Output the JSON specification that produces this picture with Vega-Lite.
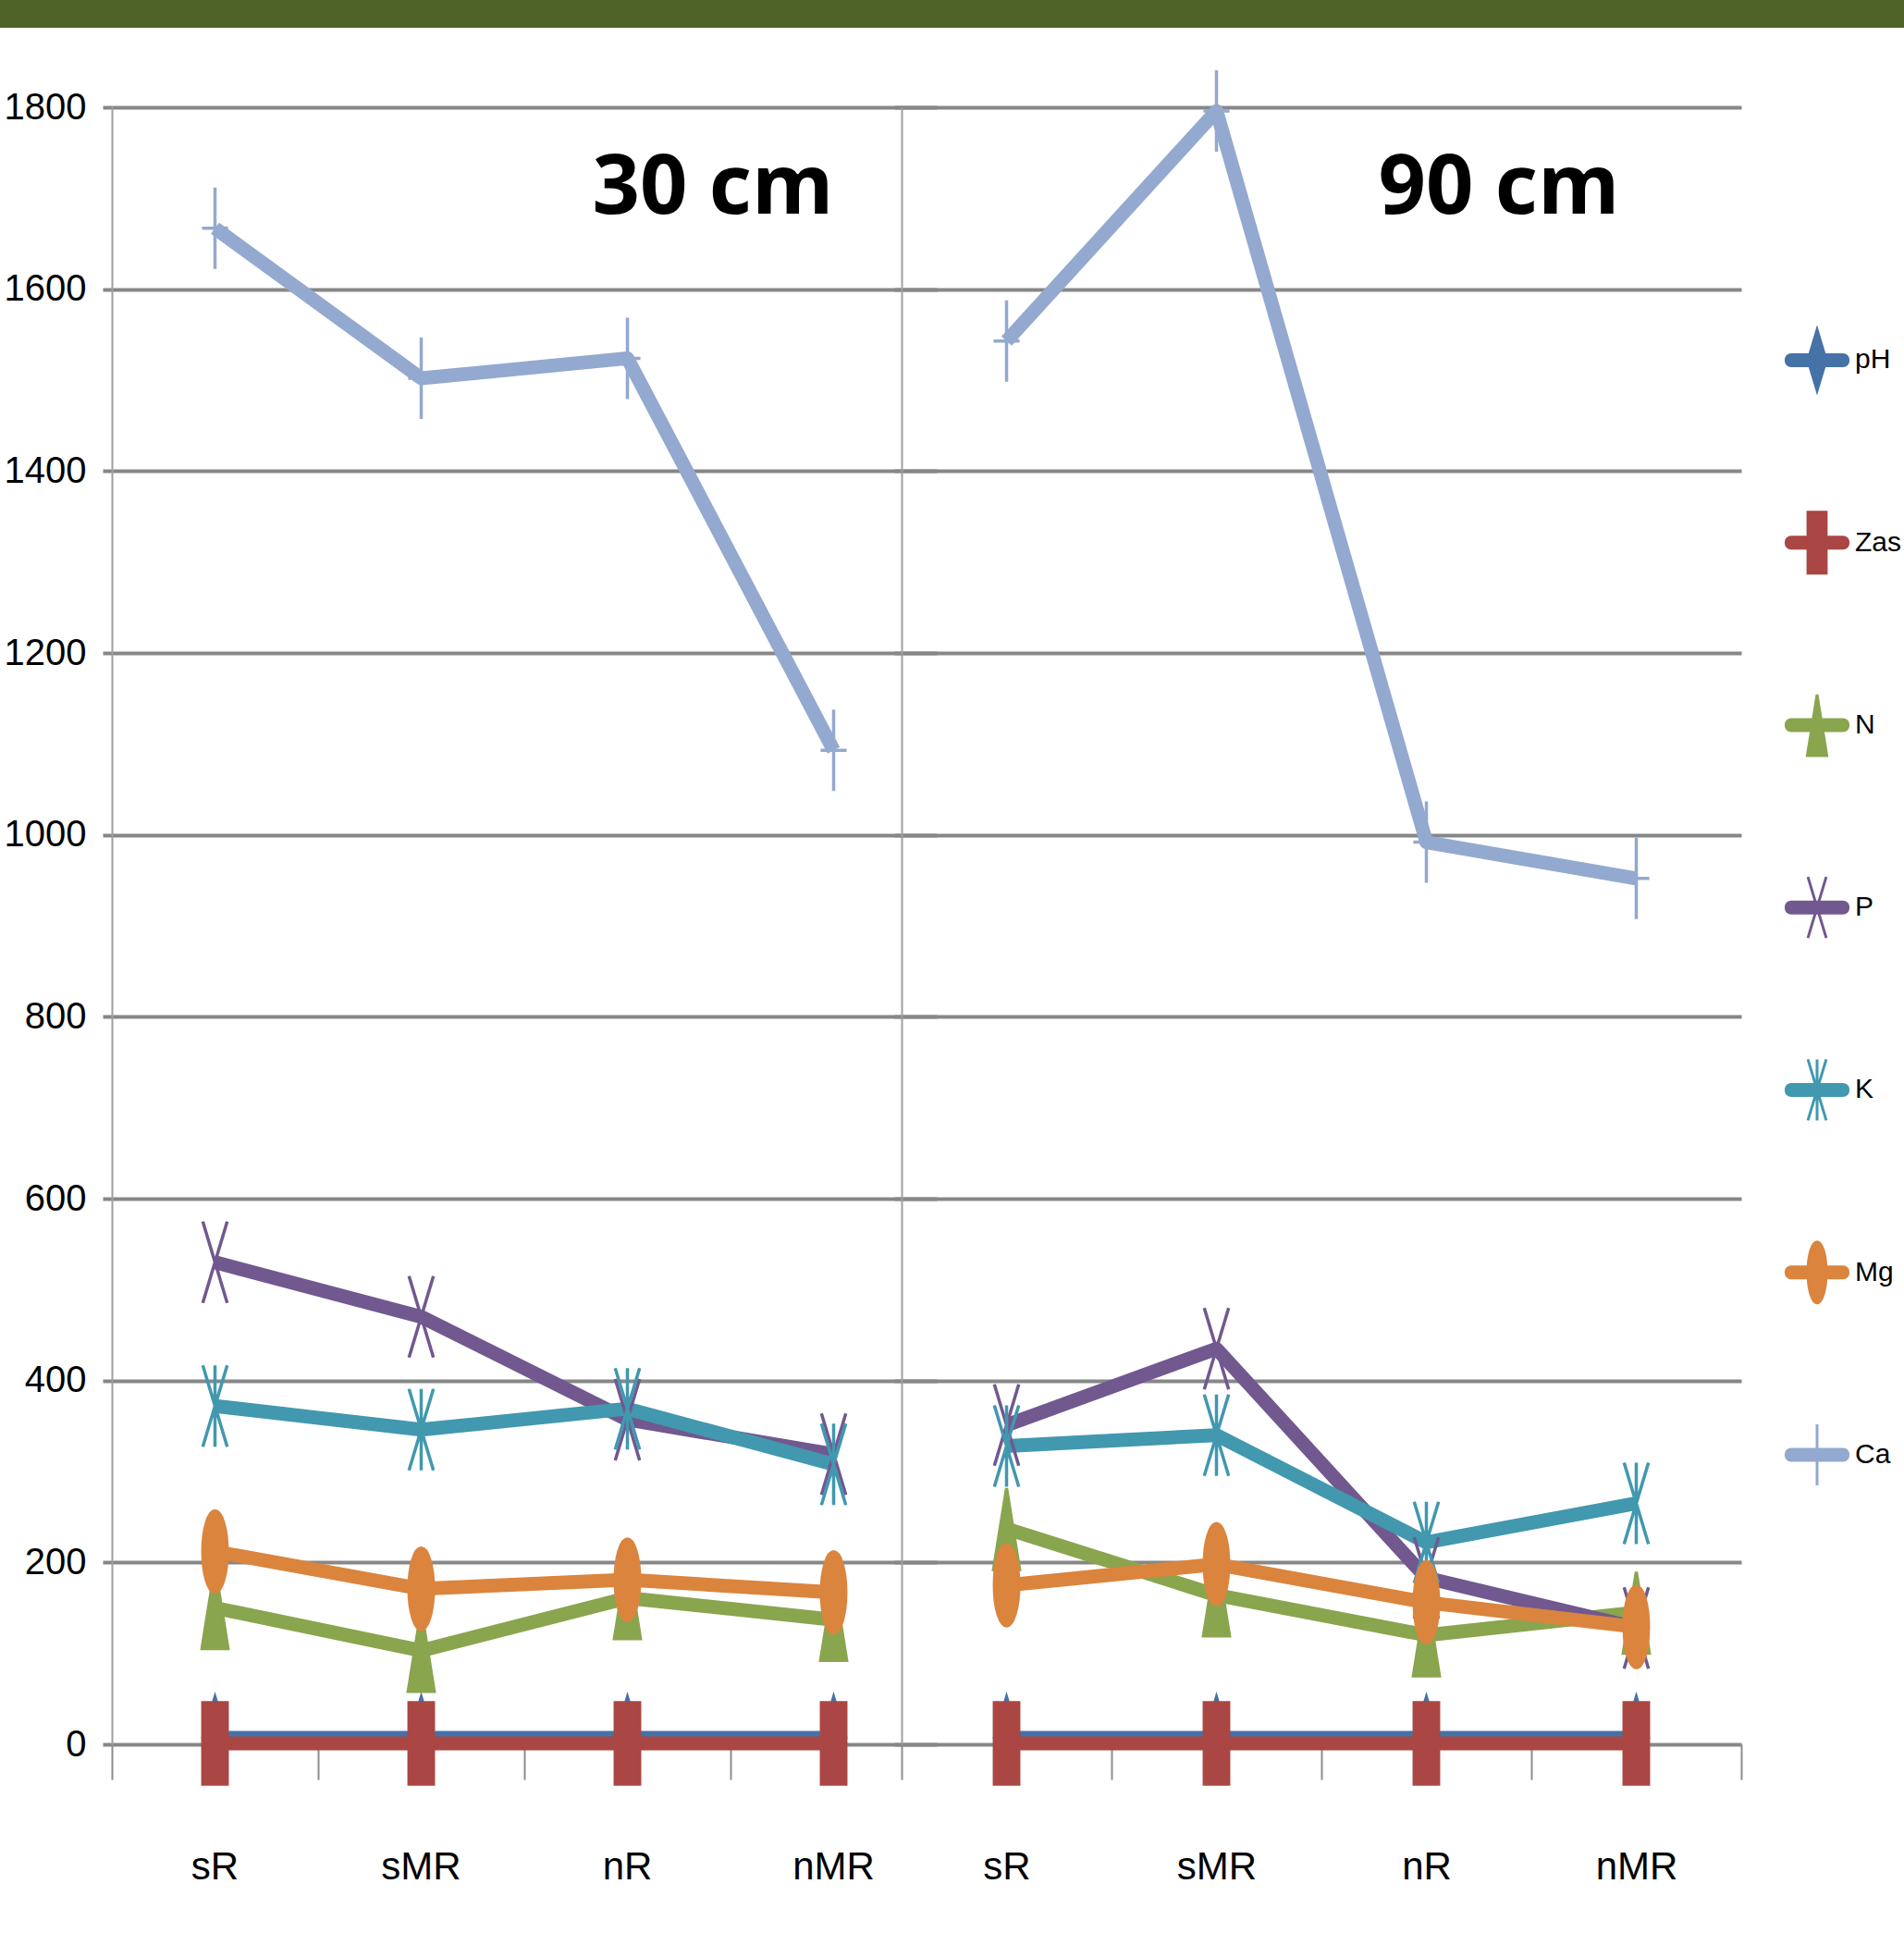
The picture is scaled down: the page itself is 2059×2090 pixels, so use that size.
{
  "$schema": "https://vega.github.io/schema/vega-lite/v6.json",
  "padding": 0,
  "background": "white",
  "config": {"view": {"stroke": null}},
  "datasets": {
    "soil": [
      {"depth": "30 cm", "site": "sR", "series": "pH", "value": 7.0},
      {"depth": "30 cm", "site": "sMR", "series": "pH", "value": 7.1},
      {"depth": "30 cm", "site": "nR", "series": "pH", "value": 7.0},
      {"depth": "30 cm", "site": "nMR", "series": "pH", "value": 7.2},
      {"depth": "90 cm", "site": "sR", "series": "pH", "value": 7.0},
      {"depth": "90 cm", "site": "sMR", "series": "pH", "value": 7.1},
      {"depth": "90 cm", "site": "nR", "series": "pH", "value": 7.0},
      {"depth": "90 cm", "site": "nMR", "series": "pH", "value": 7.2},
      {"depth": "30 cm", "site": "sR", "series": "Zas", "value": 1.0},
      {"depth": "30 cm", "site": "sMR", "series": "Zas", "value": 1.0},
      {"depth": "30 cm", "site": "nR", "series": "Zas", "value": 1.0},
      {"depth": "30 cm", "site": "nMR", "series": "Zas", "value": 1.0},
      {"depth": "90 cm", "site": "sR", "series": "Zas", "value": 1.0},
      {"depth": "90 cm", "site": "sMR", "series": "Zas", "value": 1.0},
      {"depth": "90 cm", "site": "nR", "series": "Zas", "value": 1.0},
      {"depth": "90 cm", "site": "nMR", "series": "Zas", "value": 1.0},
      {"depth": "30 cm", "site": "sR", "series": "N", "value": 150},
      {"depth": "30 cm", "site": "sMR", "series": "N", "value": 103},
      {"depth": "30 cm", "site": "nR", "series": "N", "value": 161},
      {"depth": "30 cm", "site": "nMR", "series": "N", "value": 137},
      {"depth": "90 cm", "site": "sR", "series": "N", "value": 237},
      {"depth": "90 cm", "site": "sMR", "series": "N", "value": 164},
      {"depth": "90 cm", "site": "nR", "series": "N", "value": 120},
      {"depth": "90 cm", "site": "nMR", "series": "N", "value": 145},
      {"depth": "30 cm", "site": "sR", "series": "P", "value": 530},
      {"depth": "30 cm", "site": "sMR", "series": "P", "value": 470},
      {"depth": "30 cm", "site": "nR", "series": "P", "value": 357},
      {"depth": "30 cm", "site": "nMR", "series": "P", "value": 319},
      {"depth": "90 cm", "site": "sR", "series": "P", "value": 351},
      {"depth": "90 cm", "site": "sMR", "series": "P", "value": 435},
      {"depth": "90 cm", "site": "nR", "series": "P", "value": 183},
      {"depth": "90 cm", "site": "nMR", "series": "P", "value": 128},
      {"depth": "30 cm", "site": "sR", "series": "K", "value": 372},
      {"depth": "30 cm", "site": "sMR", "series": "K", "value": 346},
      {"depth": "30 cm", "site": "nR", "series": "K", "value": 369},
      {"depth": "30 cm", "site": "nMR", "series": "K", "value": 308},
      {"depth": "90 cm", "site": "sR", "series": "K", "value": 328},
      {"depth": "90 cm", "site": "sMR", "series": "K", "value": 340},
      {"depth": "90 cm", "site": "nR", "series": "K", "value": 222},
      {"depth": "90 cm", "site": "nMR", "series": "K", "value": 265},
      {"depth": "30 cm", "site": "sR", "series": "Mg", "value": 212},
      {"depth": "30 cm", "site": "sMR", "series": "Mg", "value": 171},
      {"depth": "30 cm", "site": "nR", "series": "Mg", "value": 181},
      {"depth": "30 cm", "site": "nMR", "series": "Mg", "value": 167},
      {"depth": "90 cm", "site": "sR", "series": "Mg", "value": 175},
      {"depth": "90 cm", "site": "sMR", "series": "Mg", "value": 198},
      {"depth": "90 cm", "site": "nR", "series": "Mg", "value": 156},
      {"depth": "90 cm", "site": "nMR", "series": "Mg", "value": 129},
      {"depth": "30 cm", "site": "sR", "series": "Ca", "value": 1667},
      {"depth": "30 cm", "site": "sMR", "series": "Ca", "value": 1502},
      {"depth": "30 cm", "site": "nR", "series": "Ca", "value": 1524},
      {"depth": "30 cm", "site": "nMR", "series": "Ca", "value": 1093},
      {"depth": "90 cm", "site": "sR", "series": "Ca", "value": 1543},
      {"depth": "90 cm", "site": "sMR", "series": "Ca", "value": 1796},
      {"depth": "90 cm", "site": "nR", "series": "Ca", "value": 992},
      {"depth": "90 cm", "site": "nMR", "series": "Ca", "value": 952}
    ],
    "depths": [{"depth": "30 cm"}, {"depth": "90 cm"}],
    "series": [{"series": "pH"}, {"series": "Zas"}, {"series": "N"}, {"series": "P"}, {"series": "K"}, {"series": "Mg"}, {"series": "Ca"}]
  },
  "spacing": 86,
  "bounds": "flush",
  "vconcat": [
    {
      "width": 2059,
      "height": 30,
      "view": {"fill": "#4F6228", "stroke": null},
      "data": {"values": []},
      "mark": {"type": "text", "text": ""},
      "encoding": {}
    },
    {
      "spacing": 7,
      "bounds": "flush",
      "hconcat": [
        {
          "width": 968,
          "height": 1770,
          "layer": [
            {
              "data": {"name": "soil"},
              "transform": [{"filter": {"field": "depth", "equal": "30 cm"}}],
              "mark": {"type": "line", "strokeWidth": 15, "strokeJoin": "round"},
              "encoding": {
                "x": {"field": "site", "type": "nominal", "bandPosition": 0.5,
                  "scale": {"type": "band", "domain": ["sR", "sMR", "nR", "nMR"], "range": [121, 1013], "paddingInner": 0, "paddingOuter": 0},
                  "axis": {"title": null, "domain": false, "grid": false, "bandPosition": 0, "tickExtra": false, "tickSize": 38, "tickWidth": 2, "tickColor": "#8C8C8C", "labelAngle": 0, "labelFont": "Liberation Sans", "labelFontSize": 42, "labelColor": "#000000", "labelPadding": 74}},
                "y": {"field": "value", "type": "quantitative",
                  "scale": {"domain": [0, 1800], "nice": false},
                  "axis": {"title": null, "format": "d", "values": [0, 200, 400, 600, 800, 1000, 1200, 1400, 1600, 1800], "offset": -121, "grid": true, "gridColor": "#878787", "gridWidth": 4, "domain": true, "domainColor": "#A0A0A0", "domainWidth": 2, "tickSize": 10, "tickWidth": 4, "tickColor": "#878787", "labelFont": "Liberation Sans", "labelFontSize": 40, "labelColor": "#000000", "labelPadding": 18}},
                "color": {"field": "series", "type": "nominal", "legend": null,
                  "scale": {"domain": ["pH", "Zas", "N", "P", "K", "Mg", "Ca"], "range": ["#4572A7", "#AA4643", "#89A54E", "#71588F", "#4198AF", "#DB843D", "#93A9CF"]}}
              }
            },
            {
              "data": {"name": "soil"},
              "transform": [{"filter": {"field": "depth", "equal": "30 cm"}}],
              "mark": {"type": "point", "strokeWidth": 3.5, "opacity": 1},
              "encoding": {
                "x": {"field": "site", "type": "nominal", "bandPosition": 0.5},
                "y": {"field": "value", "type": "quantitative"},
                "shape": {"field": "series", "type": "nominal", "legend": null,
                  "scale": {"domain": ["pH", "Zas", "N", "P", "K", "Mg", "Ca"], "range": ["M0,-1L0.3,0L0,1L-0.3,0Z", "M-0.3,-1H0.3V1H-0.3Z", "M0,-1L0.32,1L-0.32,1Z", "M-0.3,-1L0.3,1M0.3,-1L-0.3,1", "M-0.3,-1L0.3,1M0.3,-1L-0.3,1M0,-1L0,1", "M0,-1A0.3,1,0,0,1,0,1A0.3,1,0,0,1,0,-1Z", "M0,-1L0,1M-0.32,0L0.32,0"]}},
                "fill": {"field": "series", "type": "nominal", "legend": null,
                  "scale": {"domain": ["pH", "Zas", "N", "P", "K", "Mg", "Ca"], "range": ["#4572A7", "#AA4643", "#89A54E", "transparent", "transparent", "#DB843D", "transparent"]}},
                "stroke": {"field": "series", "type": "nominal", "legend": null,
                  "scale": {"domain": ["pH", "Zas", "N", "P", "K", "Mg", "Ca"], "range": ["#4572A7", "#AA4643", "#89A54E", "#71588F", "#4198AF", "#DB843D", "#93A9CF"]}},
                "size": {"value": 7744}
              }
            },
            {
              "data": {"name": "depths"},
              "transform": [{"filter": {"field": "depth", "equal": "30 cm"}}],
              "mark": {"type": "text", "font": "Open Sans", "fontWeight": "bold", "fontSize": 90, "align": "right", "baseline": "alphabetic", "color": "#000000"},
              "encoding": {
                "x": {"datum": "nMR", "type": "nominal", "bandPosition": 0.5},
                "y": {"datum": 1683, "type": "quantitative"},
                "text": {"field": "depth", "type": "nominal"}
              }
            }
          ]
        },
        {
          "width": 908,
          "height": 1770,
          "layer": [
            {
              "data": {"name": "soil"},
              "transform": [{"filter": {"field": "depth", "equal": "90 cm"}}],
              "mark": {"type": "line", "strokeWidth": 15, "strokeJoin": "round"},
              "encoding": {
                "x": {"field": "site", "type": "nominal", "bandPosition": 0.5,
                  "scale": {"type": "band", "domain": ["sR", "sMR", "nR", "nMR"], "paddingInner": 0, "paddingOuter": 0},
                  "axis": {"title": null, "domain": false, "grid": false, "tickBand": "extent", "tickSize": 38, "tickWidth": 2, "tickColor": "#8C8C8C", "labelAngle": 0, "labelFont": "Liberation Sans", "labelFontSize": 42, "labelColor": "#000000", "labelPadding": 74}},
                "y": {"field": "value", "type": "quantitative",
                  "scale": {"domain": [0, 1800], "nice": false},
                  "axis": {"title": null, "values": [0, 200, 400, 600, 800, 1000, 1200, 1400, 1600, 1800], "labels": false, "grid": true, "gridColor": "#878787", "gridWidth": 4, "domain": true, "domainColor": "#A0A0A0", "domainWidth": 2, "tickSize": 8, "tickWidth": 4, "tickColor": "#878787"}},
                "color": {"field": "series", "type": "nominal", "legend": null,
                  "scale": {"domain": ["pH", "Zas", "N", "P", "K", "Mg", "Ca"], "range": ["#4572A7", "#AA4643", "#89A54E", "#71588F", "#4198AF", "#DB843D", "#93A9CF"]}}
              }
            },
            {
              "data": {"name": "soil"},
              "transform": [{"filter": {"field": "depth", "equal": "90 cm"}}],
              "mark": {"type": "point", "strokeWidth": 3.5, "opacity": 1},
              "encoding": {
                "x": {"field": "site", "type": "nominal", "bandPosition": 0.5},
                "y": {"field": "value", "type": "quantitative"},
                "shape": {"field": "series", "type": "nominal", "legend": null,
                  "scale": {"domain": ["pH", "Zas", "N", "P", "K", "Mg", "Ca"], "range": ["M0,-1L0.3,0L0,1L-0.3,0Z", "M-0.3,-1H0.3V1H-0.3Z", "M0,-1L0.32,1L-0.32,1Z", "M-0.3,-1L0.3,1M0.3,-1L-0.3,1", "M-0.3,-1L0.3,1M0.3,-1L-0.3,1M0,-1L0,1", "M0,-1A0.3,1,0,0,1,0,1A0.3,1,0,0,1,0,-1Z", "M0,-1L0,1M-0.32,0L0.32,0"]}},
                "fill": {"field": "series", "type": "nominal", "legend": null,
                  "scale": {"domain": ["pH", "Zas", "N", "P", "K", "Mg", "Ca"], "range": ["#4572A7", "#AA4643", "#89A54E", "transparent", "transparent", "#DB843D", "transparent"]}},
                "stroke": {"field": "series", "type": "nominal", "legend": null,
                  "scale": {"domain": ["pH", "Zas", "N", "P", "K", "Mg", "Ca"], "range": ["#4572A7", "#AA4643", "#89A54E", "#71588F", "#4198AF", "#DB843D", "#93A9CF"]}},
                "size": {"value": 7744}
              }
            },
            {
              "data": {"name": "depths"},
              "transform": [{"filter": {"field": "depth", "equal": "90 cm"}}],
              "mark": {"type": "text", "font": "Open Sans", "fontWeight": "bold", "fontSize": 90, "align": "right", "baseline": "alphabetic", "color": "#000000", "dx": -18},
              "encoding": {
                "x": {"datum": "nMR", "type": "nominal", "bandPosition": 0.5},
                "y": {"datum": 1683, "type": "quantitative"},
                "text": {"field": "depth", "type": "nominal"}
              }
            }
          ]
        },
        {
          "width": 150,
          "height": 1578,
          "data": {"name": "series"},
          "encoding": {
            "y": {"field": "series", "type": "nominal",
              "scale": {"type": "point", "domain": ["pH", "Zas", "N", "P", "K", "Mg", "Ca"], "padding": 1, "align": 0.693},
              "axis": null}
          },
          "layer": [
            {
              "mark": {"type": "tick", "orient": "horizontal", "size": 70, "thickness": 15, "cornerRadius": 7, "opacity": 1},
              "encoding": {
                "color": {"field": "series", "type": "nominal", "legend": null,
                  "scale": {"domain": ["pH", "Zas", "N", "P", "K", "Mg", "Ca"], "range": ["#4572A7", "#AA4643", "#89A54E", "#71588F", "#4198AF", "#DB843D", "#93A9CF"]}}
              }
            },
            {
              "mark": {"type": "point", "strokeWidth": 3, "opacity": 1},
              "encoding": {
                "shape": {"field": "series", "type": "nominal", "legend": null,
                  "scale": {"domain": ["pH", "Zas", "N", "P", "K", "Mg", "Ca"], "range": ["M0,-1L0.3,0L0,1L-0.3,0Z", "M-0.3,-1H0.3V1H-0.3Z", "M0,-1L0.32,1L-0.32,1Z", "M-0.3,-1L0.3,1M0.3,-1L-0.3,1", "M-0.3,-1L0.3,1M0.3,-1L-0.3,1M0,-1L0,1", "M0,-1A0.3,1,0,0,1,0,1A0.3,1,0,0,1,0,-1Z", "M0,-1L0,1M-0.32,0L0.32,0"]}},
                "fill": {"field": "series", "type": "nominal", "legend": null,
                  "scale": {"domain": ["pH", "Zas", "N", "P", "K", "Mg", "Ca"], "range": ["#4572A7", "#AA4643", "#89A54E", "transparent", "transparent", "#DB843D", "transparent"]}},
                "stroke": {"field": "series", "type": "nominal", "legend": null,
                  "scale": {"domain": ["pH", "Zas", "N", "P", "K", "Mg", "Ca"], "range": ["#4572A7", "#AA4643", "#89A54E", "#71588F", "#4198AF", "#DB843D", "#93A9CF"]}},
                "size": {"value": 4356}
              }
            },
            {
              "mark": {"type": "text", "align": "left", "baseline": "middle", "dx": 41, "font": "Liberation Sans", "fontSize": 30, "color": "#000000"},
              "encoding": {
                "text": {"field": "series", "type": "nominal"}
              }
            }
          ]
        }
      ]
    }
  ]
}
